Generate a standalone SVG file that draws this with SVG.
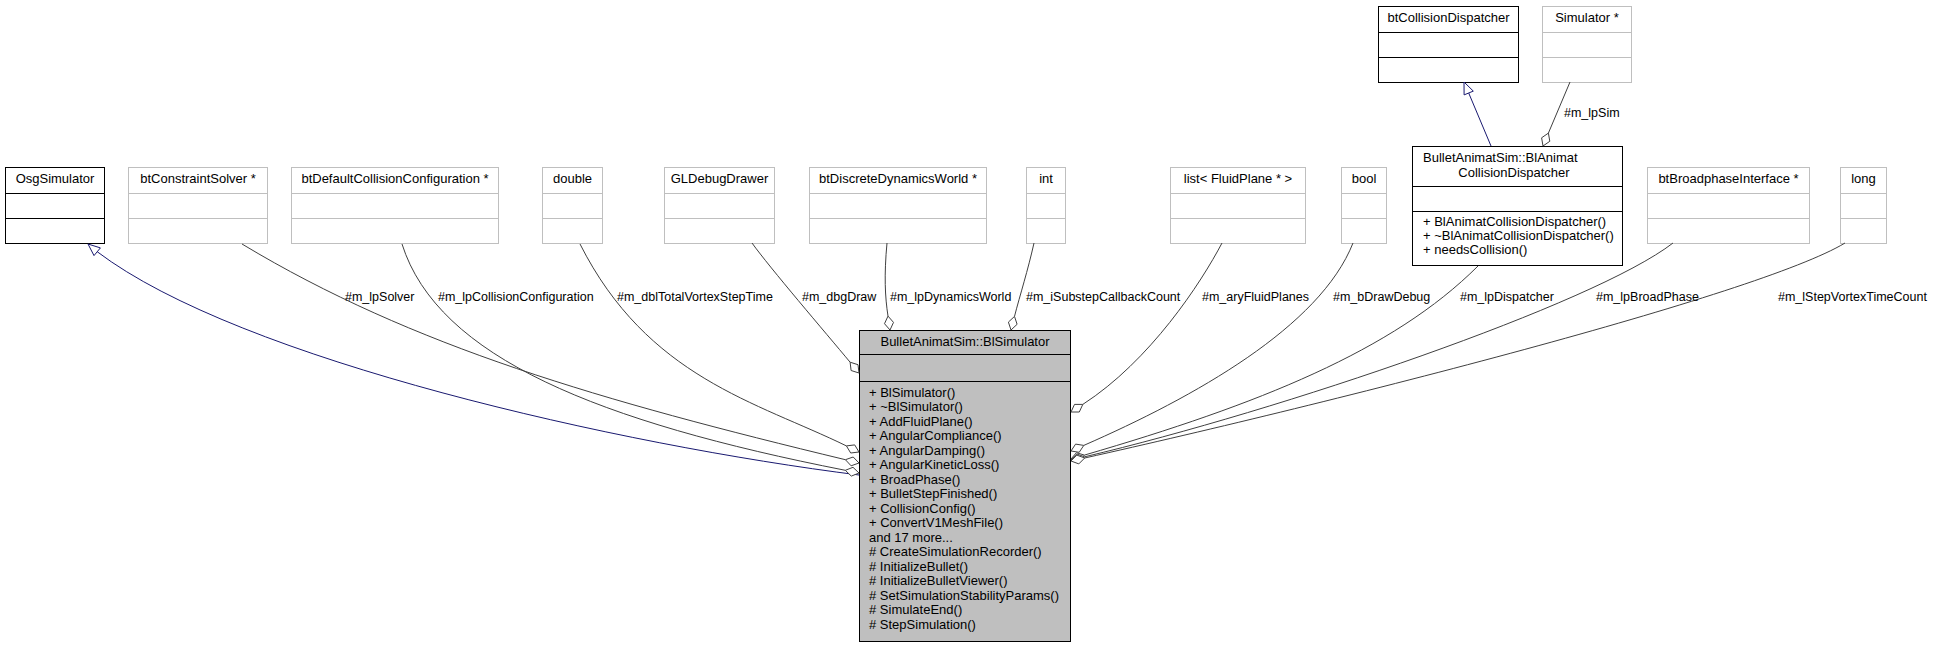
<svg xmlns="http://www.w3.org/2000/svg" width="1939" height="647" viewBox="0 0 1939 647">
<style>
text{font-family:"Liberation Sans",Arial,sans-serif;font-size:13px;fill:#000}
.c{text-anchor:middle}
.l{font-size:12.5px}
.k rect,.k line{fill:#fff;stroke:#000;stroke-width:1}
.g rect,.g line{fill:#fff;stroke:#bfbfbf;stroke-width:1}
#main rect{fill:#bfbfbf}
.e{fill:none;stroke:#404040;stroke-width:1}
.i{fill:none;stroke:#191970;stroke-width:1}
.d{fill:#fff;stroke:#404040;stroke-width:1}
.a{fill:#fff;stroke:#191970;stroke-width:1}
</style>
<rect width="1939" height="647" fill="#fff"/>

<g id="OsgSimulator" class="k"><rect x="5.5" y="167.5" width="99" height="76"/><line x1="5.5" y1="193.5" x2="104.5" y2="193.5"/><line x1="5.5" y1="218.5" x2="104.5" y2="218.5"/><text class="c" x="55" y="183">OsgSimulator</text></g>
<g id="btConstraintSolver" class="g"><rect x="128.5" y="167.5" width="139" height="76"/><line x1="128.5" y1="193.5" x2="267.5" y2="193.5"/><line x1="128.5" y1="218.5" x2="267.5" y2="218.5"/><text class="c" x="198" y="183">btConstraintSolver *</text></g>
<g id="btDefaultCollisionConfiguration" class="g"><rect x="291.5" y="167.5" width="207" height="76"/><line x1="291.5" y1="193.5" x2="498.5" y2="193.5"/><line x1="291.5" y1="218.5" x2="498.5" y2="218.5"/><text class="c" x="395" y="183">btDefaultCollisionConfiguration *</text></g>
<g id="double" class="g"><rect x="542.5" y="167.5" width="60" height="76"/><line x1="542.5" y1="193.5" x2="602.5" y2="193.5"/><line x1="542.5" y1="218.5" x2="602.5" y2="218.5"/><text class="c" x="572.5" y="183">double</text></g>
<g id="GLDebugDrawer" class="g"><rect x="664.5" y="167.5" width="110" height="76"/><line x1="664.5" y1="193.5" x2="774.5" y2="193.5"/><line x1="664.5" y1="218.5" x2="774.5" y2="218.5"/><text class="c" x="719.5" y="183">GLDebugDrawer</text></g>
<g id="btDiscreteDynamicsWorld" class="g"><rect x="809.5" y="167.5" width="177" height="76"/><line x1="809.5" y1="193.5" x2="986.5" y2="193.5"/><line x1="809.5" y1="218.5" x2="986.5" y2="218.5"/><text class="c" x="898" y="183">btDiscreteDynamicsWorld *</text></g>
<g id="int" class="g"><rect x="1026.5" y="167.5" width="39" height="76"/><line x1="1026.5" y1="193.5" x2="1065.5" y2="193.5"/><line x1="1026.5" y1="218.5" x2="1065.5" y2="218.5"/><text class="c" x="1046" y="183">int</text></g>
<g id="listFluidPlane" class="g"><rect x="1170.5" y="167.5" width="135" height="76"/><line x1="1170.5" y1="193.5" x2="1305.5" y2="193.5"/><line x1="1170.5" y1="218.5" x2="1305.5" y2="218.5"/><text class="c" x="1238" y="183">list&lt; FluidPlane * &gt;</text></g>
<g id="bool" class="g"><rect x="1341.5" y="167.5" width="45" height="76"/><line x1="1341.5" y1="193.5" x2="1386.5" y2="193.5"/><line x1="1341.5" y1="218.5" x2="1386.5" y2="218.5"/><text class="c" x="1364" y="183">bool</text></g>
<g id="btBroadphaseInterface" class="g"><rect x="1647.5" y="167.5" width="162" height="76"/><line x1="1647.5" y1="193.5" x2="1809.5" y2="193.5"/><line x1="1647.5" y1="218.5" x2="1809.5" y2="218.5"/><text class="c" x="1728.5" y="183">btBroadphaseInterface *</text></g>
<g id="long" class="g"><rect x="1840.5" y="167.5" width="46" height="76"/><line x1="1840.5" y1="193.5" x2="1886.5" y2="193.5"/><line x1="1840.5" y1="218.5" x2="1886.5" y2="218.5"/><text class="c" x="1863.5" y="183">long</text></g>
<g id="btCollisionDispatcher" class="k"><rect x="1378.5" y="6.5" width="140" height="76"/><line x1="1378.5" y1="32.5" x2="1518.5" y2="32.5"/><line x1="1378.5" y1="57.5" x2="1518.5" y2="57.5"/><text class="c" x="1448.5" y="22">btCollisionDispatcher</text></g>
<g id="Simulator" class="g"><rect x="1542.5" y="6.5" width="89" height="76"/><line x1="1542.5" y1="32.5" x2="1631.5" y2="32.5"/><line x1="1542.5" y1="57.5" x2="1631.5" y2="57.5"/><text class="c" x="1587" y="22">Simulator *</text></g>
<g id="BlAnimatCollisionDispatcher" class="k"><rect x="1412.5" y="146.5" width="210" height="119"/><line x1="1412.5" y1="186.5" x2="1622.5" y2="186.5"/><line x1="1412.5" y1="211.5" x2="1622.5" y2="211.5"/>
<text x="1423" y="162">BulletAnimatSim::BlAnimat</text><text class="c" x="1514" y="177">CollisionDispatcher</text>
<text x="1423" y="226">+ BlAnimatCollisionDispatcher()</text><text x="1423" y="240">+ ~BlAnimatCollisionDispatcher()</text><text x="1423" y="254">+ needsCollision()</text></g>
<g id="main" class="k"><rect x="859.5" y="330.5" width="211" height="311"/><line x1="859.5" y1="354.5" x2="1070.5" y2="354.5"/><line x1="859.5" y1="381.5" x2="1070.5" y2="381.5"/>
<text class="c" x="965" y="346">BulletAnimatSim::BlSimulator</text>
<text x="869" y="396.5">+ BlSimulator()</text>
<text x="869" y="411">+ ~BlSimulator()</text>
<text x="869" y="425.5">+ AddFluidPlane()</text>
<text x="869" y="440">+ AngularCompliance()</text>
<text x="869" y="454.5">+ AngularDamping()</text>
<text x="869" y="469">+ AngularKineticLoss()</text>
<text x="869" y="483.5">+ BroadPhase()</text>
<text x="869" y="498">+ BulletStepFinished()</text>
<text x="869" y="512.5">+ CollisionConfig()</text>
<text x="869" y="527">+ ConvertV1MeshFile()</text>
<text x="869" y="541.5">and 17 more...</text>
<text x="869" y="556"># CreateSimulationRecorder()</text>
<text x="869" y="570.5"># InitializeBullet()</text>
<text x="869" y="585"># InitializeBulletViewer()</text>
<text x="869" y="599.5"># SetSimulationStabilityParams()</text>
<text x="869" y="614"># SimulateEnd()</text>
<text x="869" y="628.5"># StepSimulation()</text></g>

<g id="connectors">
<path class="i" d="M859,475 C620,445 240,360 97.2,251.7"/>
<polygon class="a" points="88,244 100.4,247.9 94,255.6"/>
<path class="i" d="M1491,146 L1468.7,93"/>
<polygon class="a" points="1464,82 1473.3,91.1 1464.1,94.9"/>

<path class="e" d="M242,244 C413,347 602,401 845.4,459.7"/>
<polygon class="d" points="859,463 853.2,457 845.4,459.7 851.1,465.8"/>
<path class="e" d="M402,244 C438,358 600,422 845.3,470.3"/>
<polygon class="d" points="859,473 853,467.3 845.3,470.3 851.3,476.1"/>
<path class="e" d="M580,244 C647.5,377.5 756.6,402 846.4,445.9"/>
<polygon class="d" points="859,452 854.7,444.9 846.4,445.9 850.7,453"/>
<path class="e" d="M752,243 C770,268 825,332 850.1,362.2"/>
<polygon class="d" points="859,373 858,364.7 850.1,362.2 851.1,370.5"/>
<path class="e" d="M887,243 C884,275 885,297 888,316.1"/>
<polygon class="d" points="890,330 893.5,322.4 888,316.1 884.5,323.7"/>
<path class="e" d="M1034,243 C1028,270 1020,295 1014.5,316.4"/>
<polygon class="d" points="1011,330 1017.1,324.3 1014.5,316.4 1008.4,322.1"/>
<path class="e" d="M1222,243 C1201,283 1150,361 1082.8,404.4"/>
<polygon class="d" points="1071,412 1079.3,412 1082.8,404.4 1074.5,404.4"/>
<path class="e" d="M1353,243 C1320,327 1193.7,397.3 1083.8,445.4"/>
<polygon class="d" points="1071,451 1079.2,452.3 1083.8,445.4 1075.6,444.1"/>
<path class="e" d="M1478,266 C1393,351 1257.2,404.7 1084.4,455.1"/>
<polygon class="d" points="1071,459 1079,461.3 1084.4,455.1 1076.4,452.7"/>
<path class="e" d="M1673,243 C1594,304 1279,411 1084.6,456.8"/>
<polygon class="d" points="1071,460 1078.8,462.8 1084.6,456.8 1076.8,454"/>
<path class="e" d="M1845,243 C1759,295 1329,403.5 1084.7,458"/>
<polygon class="d" points="1071,461 1078.8,463.9 1084.7,458 1076.8,455.1"/>
<path class="e" d="M1570,82 L1548.4,133.1"/>
<polygon class="d" points="1543,146 1549.8,141.3 1548.4,133.1 1541.6,137.8"/>

<text class="l" x="345" y="301">#m_lpSolver</text>
<text class="l" x="438" y="301">#m_lpCollisionConfiguration</text>
<text class="l" x="617" y="301">#m_dblTotalVortexStepTime</text>
<text class="l" x="802" y="301">#m_dbgDraw</text>
<text class="l" x="890" y="301">#m_lpDynamicsWorld</text>
<text class="l" x="1026" y="301">#m_iSubstepCallbackCount</text>
<text class="l" x="1202" y="301">#m_aryFluidPlanes</text>
<text class="l" x="1333" y="301">#m_bDrawDebug</text>
<text class="l" x="1460" y="301">#m_lpDispatcher</text>
<text class="l" x="1596" y="301">#m_lpBroadPhase</text>
<text class="l" x="1778" y="301">#m_lStepVortexTimeCount</text>
<text class="l" x="1564" y="117">#m_lpSim</text>
</g>
</svg>
